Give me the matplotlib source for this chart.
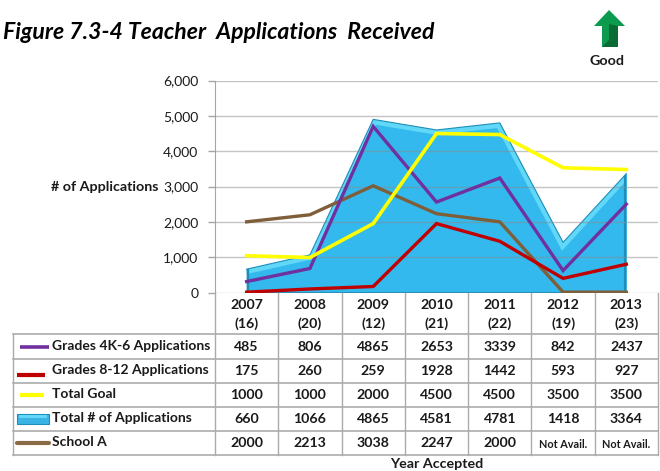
import matplotlib
matplotlib.use("Agg")
import matplotlib.pyplot as plt
from matplotlib.patches import Polygon
import numpy as np

plt.rcParams['font.family'] = ['Lato', 'DejaVu Sans']

years = ["2007", "2008", "2009", "2010", "2011", "2012", "2013"]
counts = ["(16)", "(20)", "(12)", "(21)", "(22)", "(19)", "(23)"]
y_ticks = [0, 1000, 2000, 3000, 4000, 5000, 6000]

# table values
row_names = ["Grades 4K-6 Applications", "Grades 8-12 Applications", "Total Goal",
             "Total # of Applications", "School A"]
grades_4k6_table = ["485", "806", "4865", "2653", "3339", "842", "2437"]
grades_812_table = ["175", "260", "259", "1928", "1442", "593", "927"]
goal_table = ["1000", "1000", "2000", "4500", "4500", "3500", "3500"]
total_table = ["660", "1066", "4865", "4581", "4781", "1418", "3364"]
school_table = ["2000", "2213", "3038", "2247", "2000", "Not Avail.", "Not Avail."]

# values as drawn in the plot (pseudo-3D shifts them from the table values)
grades_4k6_drawn = [310, 680, 4700, 2560, 3240, 620, 2500]
grades_812_drawn = [10, 100, 170, 1950, 1450, 400, 800]
goal_drawn = [1040, 990, 1950, 4500, 4470, 3530, 3480]
total_drawn = [660, 1066, 4900, 4600, 4800, 1418, 3364]
school_drawn = [2000, 2200, 3020, 2230, 2000, 10, 10]

PURPLE, RED, YELLOW, BROWN = "#7030A0", "#C00000", "#FFFF00", "#7F5F3A"
AREA, BEVEL, EDGE = "#33B9ED", "#62D8F8", "#1E8FB8"
GRID = "#A6A6A6"
TXT = "#1a1a1a"

W, H = 660, 471
fig = plt.figure(figsize=(W / 100, H / 100), dpi=100)
AX_L, AX_R, AX_T, AX_B = 215, 658, 80.5, 292.5
ax = fig.add_axes([AX_L / W, 1 - AX_B / H, (AX_R - AX_L) / W, (AX_B - AX_T) / H])
ax.set_xlim(0, 7)
ax.set_ylim(0, 6000)
x = np.arange(7) + 0.5

total = np.array(total_drawn, float)
body = ax.fill_between(x, 0, total, color=AREA, lw=0, zorder=1)
clip = Polygon(np.column_stack([np.r_[x, x[::-1]], np.r_[total, np.zeros(7)]]),
               closed=True, transform=ax.transData, fc='none', ec='none')
ax.add_patch(clip)
bevel_line, = ax.plot(x, total, color=BEVEL, lw=7, zorder=1.2, solid_joinstyle='miter')
bevel_line.set_clip_path(clip)
ax.plot(x, total, color=EDGE, lw=0.8, zorder=1.4)
side_l, = ax.plot([x[0], x[0]], [0, total[0]], color=EDGE, lw=2.4, zorder=1.4)
side_r, = ax.plot([x[-1], x[-1]], [0, total[-1]], color=EDGE, lw=3, zorder=1.4)
side_l.set_clip_path(clip)
side_r.set_clip_path(clip)
ax.plot([x[0], x[-1]], [0, 0], color=EDGE, lw=1.5, zorder=1.4)

ax.set_yticks(y_ticks)
ax.set_yticklabels([f"{v:,}" for v in y_ticks], fontsize=10, color=TXT)
ax.tick_params(axis='y', length=5, color=GRID, width=1, pad=7)
ax.tick_params(axis='x', length=0, labelbottom=False)
ax.grid(axis='y', color="#8a8a8a", lw=1, alpha=0.5, zorder=1.5)
ax.set_axisbelow(False)
for s in ["top", "right", "bottom"]:
    ax.spines[s].set_visible(False)
ax.spines["left"].set_color(GRID)

ax.plot(x, school_drawn, color=BROWN, lw=2.4, zorder=3, solid_joinstyle='miter')
ax.plot(x, grades_812_drawn, color=RED, lw=2.4, zorder=3.1, solid_joinstyle='miter')
ax.plot(x, grades_4k6_drawn, color=PURPLE, lw=2.4, zorder=3.2, solid_joinstyle='miter')
ax.plot(x, goal_drawn, color=YELLOW, lw=2.6, zorder=3.3, solid_joinstyle='miter')

# overlay in pixel coordinates for table, title and icon
ov = fig.add_axes([0, 0, 1, 1])
ov.set_xlim(0, W)
ov.set_ylim(H, 0)
ov.axis('off')
ov.patch.set_alpha(0)

col_edges = np.linspace(AX_L, AX_R, 8)
row_edges = [334, 359, 383, 407, 431, 455]
TL = 13
for yy in row_edges:
    ov.plot([TL, AX_R], [yy, yy], color="#ABABAB", lw=1.2)
for xx in col_edges:
    ov.plot([xx, xx], [AX_B, row_edges[-1]], color="#ABABAB", lw=1.0)
ov.plot([TL, TL], [row_edges[0], row_edges[-1]], color="#ABABAB", lw=1.0)

centers = (col_edges[:-1] + col_edges[1:]) / 2
for c, yr, n in zip(centers, years, counts):
    ov.text(c, 305, yr, ha='center', va='center', fontsize=10.2, fontweight='bold', color=TXT)
    ov.text(c, 323.5, n, ha='center', va='center', fontsize=10.2, fontweight='bold', color=TXT)

rows = [grades_4k6_table, grades_812_table, goal_table, total_table, school_table]
row_y = [347, 371, 395, 419, 443]
for name, vals, yy in zip(row_names, rows, row_y):
    ov.text(52, yy - 0.5, name, ha='left', va='center', fontsize=10, fontweight='bold', color=TXT)
    for c, v in zip(centers, vals):
        small = v.startswith("Not")
        ov.text(c, yy + (1 if small else 0), v, ha='center', va='center',
                fontsize=7.8 if small else 10.2, fontweight='bold', color=TXT)

ov.plot([20, 49], [347, 347], color=PURPLE, lw=2.6, solid_capstyle='butt')
ov.plot([17, 45], [374.5, 374.5], color=RED, lw=3, solid_capstyle='butt')
ov.plot([20, 44], [395, 395], color=YELLOW, lw=3, solid_capstyle='butt')
ov.add_patch(plt.Rectangle((17, 413.5), 32, 10.5, fc="#3AB4E4", ec=EDGE, lw=0.8))
ov.add_patch(plt.Rectangle((19, 414.5), 28, 3.5, fc=BEVEL, ec='none'))
ov.plot([17, 49], [443, 443], color="#8B6B45", lw=3, solid_capstyle='round')

ov.text(3, 32.5, "Figure 7.3-4 Teacher  Applications  Received", ha='left', va='center',
        fontsize=16.6, fontweight='bold', style='italic', color="black")
ov.text(105, 187, "# of Applications", ha='center', va='center', fontsize=10.3,
        fontweight='bold', color=TXT)
ov.text(437, 464, "Year Accepted", ha='center', va='center', fontsize=10.3,
        fontweight='bold', color=TXT)
ov.text(607.5, 61, "Good", ha='center', va='center', fontsize=10.3, fontweight='bold', color=TXT)

ov.add_patch(Polygon([(609, 10), (625, 26), (618, 26), (618, 47), (602, 47), (602, 26), (594, 26)],
                     closed=True, fc="#0C9A4E", ec='none'))
ov.add_patch(Polygon([(609, 24), (618, 26), (618, 47), (602, 47), (609, 40)], closed=True, fc="#0B6B35", ec='none'))

fig.savefig("out.png", dpi=100, facecolor="white")
